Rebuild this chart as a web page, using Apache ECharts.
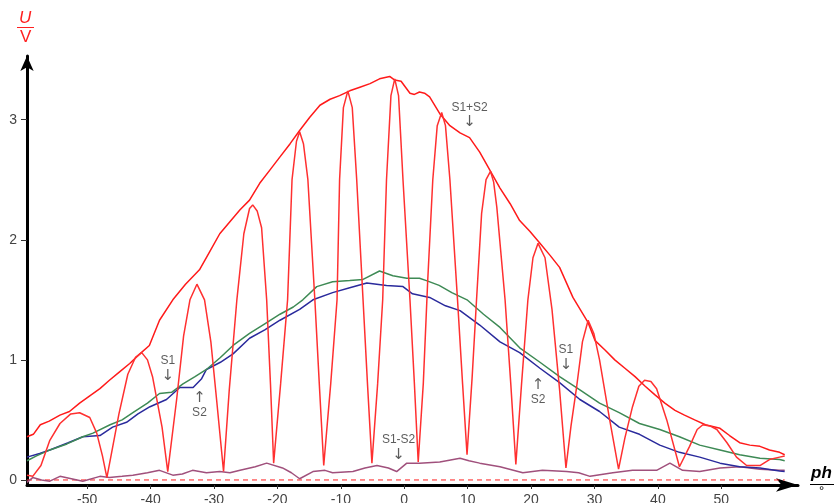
<!DOCTYPE html>
<html>
<head>
<meta charset="utf-8">
<script src="https://cdn.jsdelivr.net/npm/echarts@6/dist/echarts.min.js"></script>
<style>
  html, body { margin: 0; padding: 0; background: #fff; }
  #chart { width: 834px; height: 503px; }
</style>
</head>
<body>
<div id="chart"></div>
<script>
// tick labels
const xTicks = [-50, -40, -30, -20, -10, 0, 10, 20, 30, 40, 50];
const yTicks = [0, 1, 2, 3];

// S1+S2 envelope (upper red curve), [ph in deg, U in V]
const sumEnvelope = [
  [-59.5,0.36],[-58.5,0.38],[-57.4,0.46],[-56,0.49],[-54.3,0.54],[-52.8,0.57],[-51.2,0.64],
  [-49.6,0.70],[-48.0,0.76],[-46.5,0.83],[-44.9,0.90],[-43.3,0.97],[-41.7,1.05],[-40.2,1.12],
  [-38.6,1.33],[-36.5,1.50],[-34.5,1.63],[-32.3,1.75],[-30.7,1.90],[-29.1,2.05],[-27.5,2.15],
  [-25.9,2.25],[-24.4,2.33],[-22.8,2.47],[-21.2,2.58],[-19.6,2.69],[-18.0,2.80],[-16.5,2.91],
  [-14.9,3.02],[-13.3,3.12],[-11.7,3.17],[-10.2,3.20],[-8.6,3.24],[-7.0,3.27],[-5.4,3.30],
  [-3.9,3.34],[-2.3,3.36],[-1.5,3.33],[-0.5,3.32],[0.9,3.22],[1.6,3.21],[2.4,3.23],[3.2,3.22],
  [4.0,3.19],[5.6,3.05],[7.2,2.95],[8.8,2.89],[10.3,2.85],[11.9,2.73],[13.5,2.58],[15.1,2.43],
  [16.7,2.30],[18.2,2.16],[19.8,2.07],[21.4,1.97],[23.0,1.87],[24.5,1.77],[26.6,1.52],[29.0,1.31],
  [30.1,1.16],[31.7,1.08],[33.2,1.00],[34.8,0.93],[36.4,0.86],[38.0,0.78],[39.5,0.71],[41.1,0.64],
  [42.7,0.58],[44.2,0.54],[45.8,0.50],[47.5,0.46],[49.8,0.43],[51.3,0.37],[52.9,0.31],[54.5,0.29],
  [56.1,0.28],[57.6,0.25],[59.2,0.23],[60,0.21]
];

// interference pattern of both sources (red lobes)
const pattern = [
  [-59.5,0.04],[-58.6,0.03],[-57.3,0.12],[-55.9,0.33],[-54.3,0.47],[-52.6,0.55],[-51.2,0.56],[-49.6,0.52],[-48.5,0.39],[-47.6,0.20],[-46.9,0.02],
  [-45.0,0.55],[-43.6,0.88],[-42.4,1.02],[-41.4,1.06],[-40.5,1.00],[-39.7,0.86],[-38.2,0.44],[-37.3,0.07],
  [-35.9,0.67],[-34.8,1.20],[-33.8,1.50],[-32.7,1.63],[-31.5,1.50],[-30.5,1.15],[-29.6,0.67],[-28.5,0.07],
  [-27.6,0.75],[-26.4,1.50],[-25.3,2.05],[-24.4,2.26],[-23.9,2.29],[-23.2,2.24],[-22.5,2.10],[-21.7,1.50],[-21.1,0.80],[-20.6,0.14],
  [-19.5,0.80],[-18.4,1.50],[-17.7,2.50],[-17.0,2.82],[-16.5,2.90],[-15.9,2.80],[-15.2,2.50],[-14.1,1.50],[-13.4,0.80],[-12.7,0.12],
  [-11.6,0.80],[-10.6,1.50],[-10.2,2.50],[-9.6,3.10],[-8.9,3.24],[-8.2,3.10],[-7.5,2.50],[-6.5,1.50],[-5.8,0.80],[-5.1,0.14],
  [-4.2,0.80],[-3.4,1.50],[-2.8,2.50],[-2.1,3.20],[-1.5,3.34],[-0.9,3.20],[-0.2,2.50],[0.9,1.50],[1.6,0.80],[2.2,0.15],
  [3.0,0.80],[3.7,1.66],[4.5,2.50],[5.2,2.95],[5.9,3.06],[6.5,2.95],[7.2,2.50],[8.4,1.50],[9.2,0.80],[9.9,0.21],
  [10.7,0.85],[11.4,1.50],[12.2,2.22],[12.9,2.50],[13.6,2.57],[14.1,2.48],[14.6,2.27],[15.9,1.50],[16.8,0.80],[17.6,0.13],
  [18.5,0.80],[19.5,1.50],[20.3,1.85],[21.1,1.97],[22.2,1.85],[23.3,1.42],[24.5,0.75],[25.5,0.10],
  [26.3,0.45],[27.2,0.78],[28.1,1.15],[29.0,1.33],[29.9,1.22],[30.8,1.00],[32.4,0.50],[33.8,0.09],
  [34.8,0.35],[36.0,0.61],[37.0,0.78],[37.9,0.83],[38.9,0.82],[39.8,0.76],[41.4,0.50],[43.4,0.11],
  [45.0,0.28],[46.2,0.42],[47.1,0.46],[48.2,0.45],[49.3,0.42],[50.9,0.31],[52.4,0.19],[54.0,0.12],
  [56.1,0.12],[57.6,0.17],[59.2,0.19],[60.0,0.20]
];

// single source S1 (green)
const s1 = [
  [-59.5,0.16],[-58,0.20],[-55.9,0.25],[-53.2,0.30],[-50.7,0.36],[-49.1,0.39],[-46.4,0.46],[-44.5,0.50],
  [-42.8,0.56],[-40.5,0.64],[-38.6,0.72],[-36.7,0.73],[-34.9,0.80],[-33,0.86],[-31.2,0.92],[-29,1.02],
  [-27.0,1.12],[-24.4,1.22],[-22,1.30],[-19.6,1.38],[-17.5,1.44],[-16.0,1.50],[-13.8,1.61],[-11.3,1.65],
  [-8.6,1.66],[-6.5,1.67],[-3.9,1.74],[-1.8,1.70],[0.4,1.68],[2.4,1.68],[3.5,1.66],[5.5,1.62],[7.5,1.56],
  [9.9,1.50],[12.5,1.38],[15.1,1.27],[18.2,1.10],[21.4,0.98],[24.5,0.86],[27.7,0.75],[30.8,0.64],
  [33.9,0.56],[37.1,0.47],[40.3,0.42],[43.4,0.36],[46.6,0.29],[49.8,0.25],[52.9,0.21],[56.1,0.18],
  [59.2,0.17],[60,0.16]
];

// single source S2 (blue)
const s2 = [
  [-59.5,0.19],[-57.5,0.22],[-55.9,0.25],[-53,0.31],[-50.7,0.36],[-48,0.37],[-46,0.44],[-43.8,0.48],
  [-42,0.55],[-40.1,0.61],[-37.5,0.67],[-35.4,0.77],[-33.3,0.77],[-32,0.84],[-31.2,0.92],[-29,0.98],
  [-27.0,1.05],[-24.4,1.18],[-22,1.25],[-19.6,1.33],[-16.5,1.42],[-14.4,1.50],[-11.3,1.56],[-8.6,1.60],
  [-5.9,1.64],[-2.8,1.62],[-0.2,1.61],[1.3,1.55],[4.0,1.52],[6.5,1.45],[8.8,1.41],[11.9,1.29],
  [15.1,1.15],[18.2,1.06],[21.4,0.93],[24.5,0.81],[27.7,0.67],[30.8,0.57],[33.9,0.44],[37.1,0.38],
  [40.3,0.29],[43.4,0.23],[46.6,0.19],[49.8,0.14],[52.9,0.11],[56.1,0.10],[59.2,0.075],[60,0.07]
];

// S1-S2 (mauve, near zero)
const diff = [
  [-59.5,-0.02],[-58.6,0.02],[-57.2,0.0],[-55.9,-0.01],[-54.3,0.03],[-52.5,0.01],[-50.7,-0.01],[-48.0,0.03],
  [-46.5,0.02],[-44.5,0.03],[-42.8,0.04],[-40.5,0.06],[-38.6,0.08],[-36.5,0.04],[-35,0.05],[-33.4,0.08],
  [-31.2,0.06],[-29.1,0.07],[-27.5,0.06],[-25.9,0.08],[-23.5,0.11],[-21.7,0.14],[-19.2,0.10],[-17.8,0.06],
  [-16.5,0.01],[-14.4,0.07],[-12.5,0.08],[-11.3,0.06],[-8.1,0.07],[-6.2,0.10],[-4.3,0.12],[-2.5,0.10],
  [-1.2,0.07],[0.4,0.14],[2.4,0.14],[5.6,0.15],[8.8,0.18],[10.2,0.16],[11.9,0.14],[15.1,0.11],[18.7,0.06],
  [21.8,0.08],[25.6,0.07],[27.5,0.06],[29.3,0.03],[32.9,0.06],[36.0,0.08],[39.8,0.08],[41.9,0.14],
  [43.9,0.08],[46.6,0.07],[49.8,0.10],[52.9,0.11],[56.1,0.09],[59.2,0.08],[60,0.08]
];

// zero reference line
const zeroLine = [[-59.5, 0], [60, 0]];

// curve annotations: label, arrow direction, ph, U
const noteText = ['S1+S2', 'S1', 'S2', 'S1', 'S2', 'S1-S2'];
const noteArrow = ['down', 'down', 'up', 'down', 'up', 'down'];
const notePh = [10.3, -37.3, -32.3, 25.5, 21.1, -0.9];
const noteU = [3.04, 0.93, 0.62, 1.02, 0.73, 0.27];

const chart = echarts.init(document.getElementById('chart'));

const font = 'Liberation Sans, Arial, sans-serif';

function line(name, data, color, width, z) {
  return {
    name: name,
    type: 'line',
    data: data,
    showSymbol: false,
    symbol: 'none',
    smooth: false,
    z: z,
    lineStyle: { color: color, width: width },
    emphasis: { disabled: true }
  };
}

function noteLabel(p) {
  const d = p.data;
  return d.arrow === 'down' ? '{t|' + d.name + '}\n{a|↓}' : '{a|↑}\n{t|' + d.name + '}';
}

const option = {
  animation: false,
  backgroundColor: '#fff',
  grid: { left: 27, right: 36, top: 56, bottom: 18, containLabel: false, outerBoundsMode: 'none' },
  xAxis: {
    type: 'value',
    min: -59.5,
    max: 62.1,
    splitLine: { show: false },
    axisLine: {
      onZero: false,
      symbol: ['none', 'arrow'],
      symbolSize: [10, 22],
      lineStyle: { color: '#000', width: 3 }
    },
    axisTick: { customValues: xTicks, length: 4, lineStyle: { color: '#333', width: 1 } },
    axisLabel: { customValues: xTicks, color: '#444', fontSize: 14, fontFamily: font, margin: 8 }
  },
  yAxis: {
    type: 'value',
    min: -0.042,
    max: 3.53,
    splitLine: { show: false },
    axisLine: {
      onZero: false,
      symbol: ['none', 'arrow'],
      symbolSize: [10, 15],
      lineStyle: { color: '#000', width: 3 }
    },
    axisTick: { customValues: yTicks, length: 6, lineStyle: { color: '#333', width: 1 } },
    axisLabel: { customValues: yTicks, color: '#444', fontSize: 14, fontFamily: font, margin: 10 }
  },
  series: [
    {
      name: 'zero',
      type: 'line',
      data: zeroLine,
      showSymbol: false,
      symbol: 'none',
      z: 1,
      lineStyle: { color: '#ff2020', width: 1, type: [5, 4] }
    },
    line('S1-S2', diff, '#a0507c', 1.5, 2),
    line('S2', s2, '#2a2a9c', 1.5, 3),
    line('S1', s1, '#3e8a55', 1.5, 4),
    line('S1+S2', sumEnvelope, '#ff1a1a', 1.5, 5),
    line('pattern', pattern, '#ff3030', 1.5, 6),
    {
      name: 'notes',
      type: 'scatter',
      symbolSize: 1,
      z: 10,
      itemStyle: { color: 'rgba(0,0,0,0)' },
      data: noteText.map((t, i) => ({ value: [notePh[i], noteU[i]], name: t, arrow: noteArrow[i] })),
      label: {
        show: true,
        position: 'inside',
        formatter: noteLabel,
        align: 'center',
        rich: {
          t: { color: '#333', fontSize: 12, lineHeight: 15, fontFamily: font },
          a: { color: '#333', fontSize: 15, lineHeight: 15, fontFamily: 'DejaVu Sans' }
        }
      }
    }
  ],
  graphic: [
    { type: 'text', left: 19, top: 10, style: { text: 'U', fill: '#ff2020', font: 'italic 17px ' + font } },
    { type: 'line', shape: { x1: 17, y1: 27.5, x2: 34, y2: 27.5 }, style: { stroke: '#ff2020', lineWidth: 1 } },
    { type: 'text', left: 20, top: 29, style: { text: 'V', fill: '#ff2020', font: '17px ' + font } },
    { type: 'text', left: 811, top: 465, style: { text: 'ph', fill: '#000', font: 'italic bold 17px ' + font } },
    { type: 'line', shape: { x1: 810, y1: 484.5, x2: 834, y2: 484.5 }, style: { stroke: '#000', lineWidth: 1 } },
    { type: 'text', left: 819, top: 485, style: { text: '°', fill: '#000', font: '13px ' + font } }
  ]
};

chart.setOption(option);
</script>
</body>
</html>
